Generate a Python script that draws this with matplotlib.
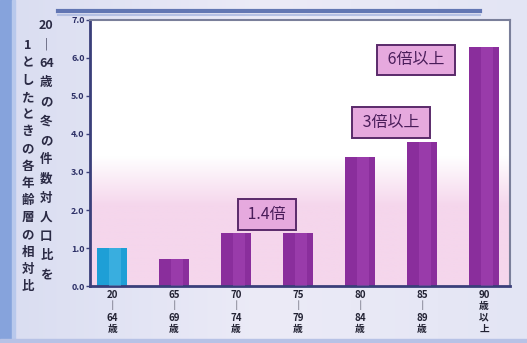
import numpy as np
import matplotlib
matplotlib.use("Agg")
import matplotlib.pyplot as plt
from matplotlib.colors import LinearSegmentedColormap

plt.rcParams['font.family'] = ['Noto Sans CJK JP', 'DejaVu Sans']

# age groups (vertical labels) and relative ratios
categories = ["20\n｜\n64\n歳", "65\n｜\n69\n歳", "70\n｜\n74\n歳", "75\n｜\n79\n歳",
              "80\n｜\n84\n歳", "85\n｜\n89\n歳", "90\n歳\n以\n上"]
ratios = [1.0, 0.7, 1.4, 1.4, 3.4, 3.8, 6.3]
yticks = [0, 1, 2, 3, 4, 5, 6, 7]
ytick_labels = ["0.0", "1.0", "2.0", "3.0", "4.0", "5.0", "6.0", "7.0"]
ylabel_right = "20\n｜\n64\n歳\nの\n冬\nの\n件\n数\n対\n人\n口\n比\nを"
ylabel_left = "1\nと\nし\nた\nと\nき\nの\n各\n年\n齢\n層\nの\n相\n対\n比"
callouts = [("1.4倍", 2.5, 1.88), ("3倍以上", 4.5, 4.3), ("6倍以上", 4.9, 5.95)]

fig = plt.figure(figsize=(5.27, 3.43), dpi=100)
fig.patch.set_facecolor("#dfe2f3")

# soft background panel and left strip
bg = fig.add_axes([0, 0, 1, 1], zorder=-5)
bg.set_xlim(0, 1); bg.set_ylim(0, 1); bg.axis("off")
grad = np.linspace(0, 1, 256).reshape(1, -1)
bg.imshow(grad, extent=[0, 1, 0, 1], aspect="auto",
          cmap=LinearSegmentedColormap.from_list("p", ["#d9ddf1", "#ecebf7", "#e3e5f4"]))
bg.add_patch(plt.Rectangle((0, 0), 0.022, 1, color="#86a3dc"))
bg.add_patch(plt.Rectangle((0.022, 0), 0.006, 1, color="#b8c8ec"))
bg.plot([0.11, 0.91], [0.968, 0.968], color="#4b63a8", lw=3.0, alpha=0.85)
bg.plot([0.11, 0.91], [0.955, 0.955], color="#aab8e0", lw=1.5, alpha=0.8)
bg.add_patch(plt.Rectangle((0, 0.0), 1, 0.012, color="#b7c2e6"))

ax = fig.add_axes([0.171, 0.166, 0.797, 0.776])
ax.set_xlim(-0.355, 6.42)
ax.set_ylim(0, 7)
ax.set_facecolor("#ffffff")

# pinkish wash in the lower part of the plot area, fading out upward
yy = np.linspace(0, 3.4, 200)
wash = np.clip((3.4 - yy) / 1.3, 0, 1).reshape(-1, 1)
cm = LinearSegmentedColormap.from_list("w", ["#ffffff", "#f5d6ec"])
ax.imshow(wash, extent=[-0.355, 6.42, 0, 3.4], aspect="auto", cmap=cm,
          zorder=0, origin="lower", vmin=0, vmax=1)

x = np.arange(len(ratios))
w = 0.49
colors = ["#1e9fd6"] + ["#8a2e9c"] * (len(ratios) - 1)
ax.bar(x, ratios, width=w, color=colors, zorder=2)
# lighter sheen on each bar
for xi, v, c in zip(x, ratios, colors):
    light = "#62c6ee" if c == "#1e9fd6" else "#b04fc0"
    ax.bar(xi + 0.04, v, width=w * 0.4, color=light, alpha=0.4, zorder=3)

for label, cx, cy in callouts:
    ax.text(cx, cy, f" {label} ", ha="center", va="center", fontsize=11.5,
            color="#4a1d5a", zorder=5,
            bbox=dict(boxstyle="square,pad=0.42", facecolor="#e6a9de",
                      edgecolor="#5a2a6a", linewidth=1.4))

ax.set_yticks(yticks)
ax.set_yticklabels(ytick_labels, fontsize=6.5, color="#2c2f66", fontweight="bold")
ax.set_xticks(x)
ax.set_xticklabels(categories, fontsize=7, color="#222233", linespacing=1.15,
                   fontweight="bold")
ax.tick_params(axis="y", length=3, width=1, color="#3a3f7a", pad=1)
ax.tick_params(axis="x", length=0, pad=3)
for s in ["left", "bottom"]:
    ax.spines[s].set_color("#3a3f7a")
    ax.spines[s].set_linewidth(2)
for s in ["top", "right"]:
    ax.spines[s].set_color("#7a7f9a")
    ax.spines[s].set_linewidth(1.5)

fig.text(0.088, 0.945, ylabel_right, ha="center", va="top", fontsize=9,
         color="#2a2a44", linespacing=1.62, fontweight="bold")
fig.text(0.053, 0.885, ylabel_left, ha="center", va="top", fontsize=9,
         color="#2a2a44", linespacing=1.42, fontweight="bold")

fig.savefig("out.png", dpi=100, facecolor=fig.get_facecolor())
